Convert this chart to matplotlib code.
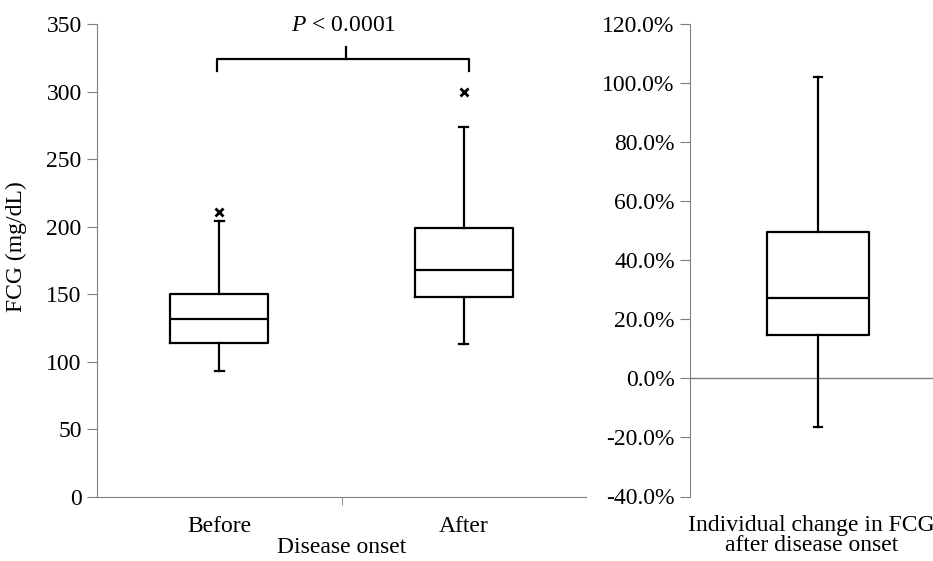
import matplotlib
matplotlib.use("Agg")
import matplotlib.pyplot as plt

plt.rcParams['font.family'] = ['Liberation Serif', 'DejaVu Serif']
plt.rcParams['mathtext.fontset'] = 'custom'
plt.rcParams['mathtext.rm'] = 'Liberation Serif'
plt.rcParams['mathtext.it'] = 'Liberation Serif:italic'

# FCG (mg/dL) before / after disease onset
groups = ['Before', 'After']
fcg_q1 = [114, 148]
fcg_med = [132, 168]
fcg_q3 = [150, 199]
fcg_lo = [93, 113]
fcg_hi = [204, 274]
fcg_out = [[211], [300]]

# individual change in FCG (%)
chg_q1 = 14.7
chg_med = 27.2
chg_q3 = 49.6
chg_lo = -16.4
chg_hi = 102.0

p_text = r'$P$ < 0.0001'

W, H = 933, 561
fig = plt.figure(figsize=(W / 100, H / 100), dpi=100)
ax1 = fig.add_axes([97 / W, 1 - 497 / H, (586 - 97) / W, (497 - 24) / H])
ax2 = fig.add_axes([690 / W, 1 - 496.5 / H, (933 - 690) / W, (496.5 - 23.6) / H])

gray = '#7f7f7f'
fs = 17
box_kw = dict(boxprops=dict(color='black', lw=1.6),
              whiskerprops=dict(color='black', lw=1.6),
              capprops=dict(color='black', lw=1.6),
              medianprops=dict(color='black', lw=1.6),
              flierprops=dict(marker='x', markeredgecolor='black',
                              markersize=6, markeredgewidth=2))

stats = []
for i, g in enumerate(groups):
    stats.append(dict(label=g, q1=fcg_q1[i], med=fcg_med[i], q3=fcg_q3[i],
                      whislo=fcg_lo[i], whishi=fcg_hi[i], fliers=fcg_out[i]))
ax1.bxp(stats, positions=[0, 1], widths=0.4, capwidths=0.037, **box_kw)

ax1.set_xlim(-0.5, 1.5)
ax1.set_ylim(0, 350)
ax1.set_yticks(range(0, 351, 50))
ax1.set_xticks([0, 1])
ax1.set_xticklabels(groups, fontsize=fs)
ax1.set_xticks([0.5], minor=True)
ax1.tick_params(axis='x', which='major', length=0, pad=14)
ax1.tick_params(axis='x', which='minor', length=6, color=gray, direction='out')
ax1.tick_params(axis='y', length=7, color=gray, labelsize=fs, pad=4)
ax1.set_xlabel('Disease onset', fontsize=fs, labelpad=0)
ax1.set_ylabel('FCG (mg/dL)', fontsize=fs)
ax1.yaxis.set_label_coords(-0.143, 0.53)
for s in ['top', 'right']:
    ax1.spines[s].set_visible(False)
for s in ['left', 'bottom']:
    ax1.spines[s].set_color(gray)

# significance bracket
ax1.plot([-0.01, -0.01, 1.02, 1.02], [315, 324, 324, 315], color='black', lw=1.6, clip_on=False)
ax1.plot([0.52, 0.52], [324, 333], color='black', lw=1.6, clip_on=False)
ax1.text(0.51, 349, p_text, ha='center', va='center', fontsize=fs, clip_on=False)

# right panel
ax2.bxp([dict(label='', q1=chg_q1, med=chg_med, q3=chg_q3, whislo=chg_lo,
              whishi=chg_hi, fliers=[])], positions=[0], widths=0.4,
        capwidths=0.031, **box_kw)
ax2.set_xlim(-0.5, 0.45)
ax2.set_ylim(-40, 120)
ax2.set_yticks(range(-40, 121, 20))
ax2.set_yticklabels(['%.1f%%' % v for v in range(-40, 121, 20)])
ax2.axhline(0, color=gray, lw=1, zorder=0)
ax2.set_xticks([])
ax2.tick_params(axis='y', length=7, color=gray, labelsize=fs, pad=4)
ax2.set_xlabel('Individual change in FCG\nafter disease onset', fontsize=fs,
               linespacing=0.95, labelpad=13)
for s in ['top', 'right', 'bottom']:
    ax2.spines[s].set_visible(False)
ax2.spines['left'].set_color(gray)

fig.savefig('out.png', dpi=100)
